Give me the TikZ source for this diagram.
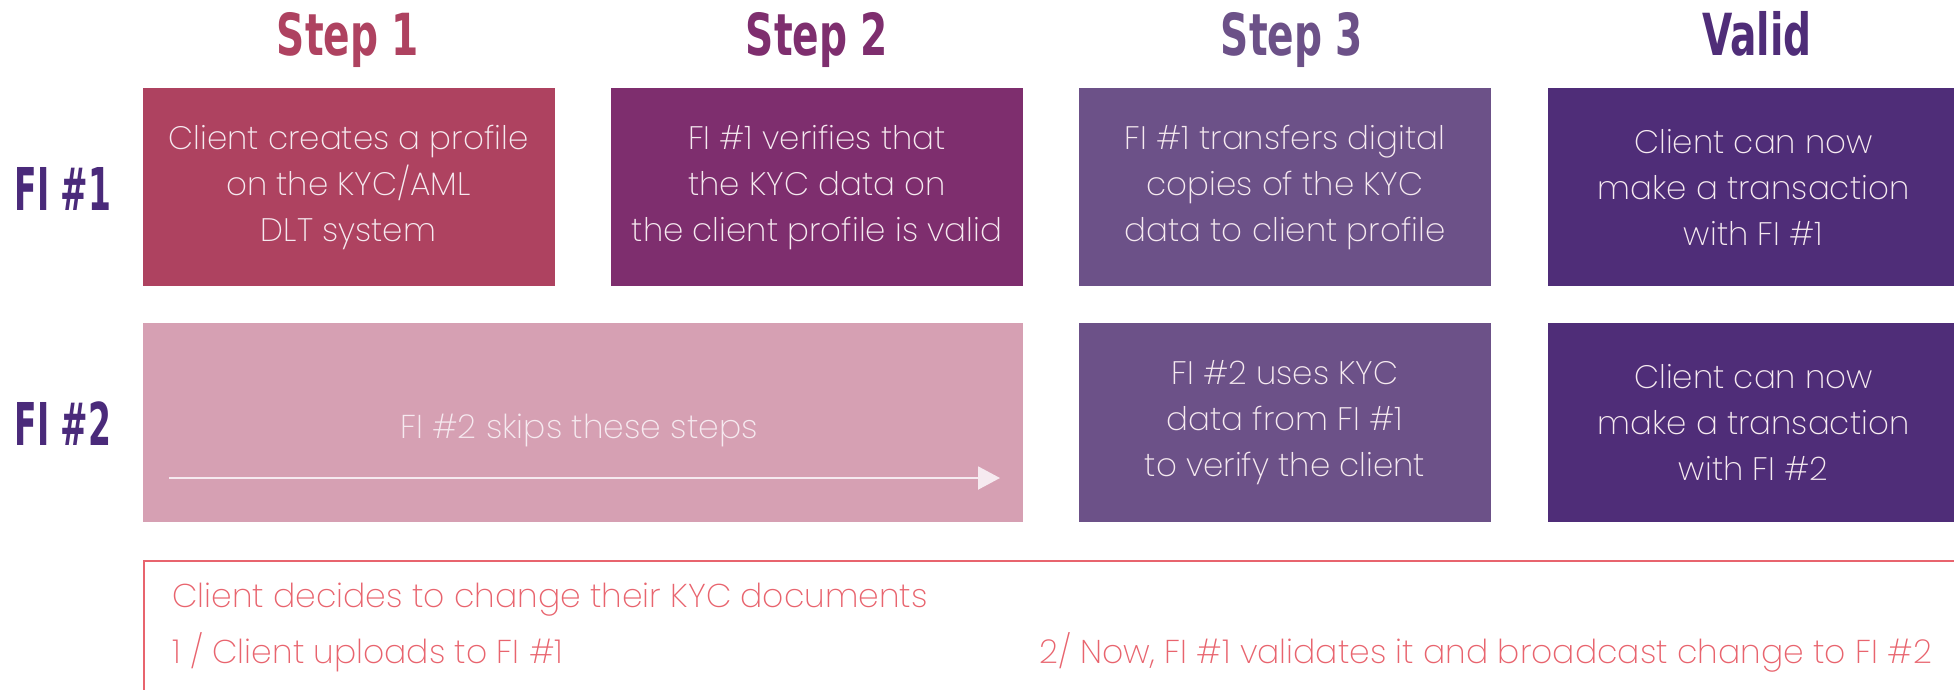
\documentclass[tikz,border=0pt]{standalone}
\usepackage{fontspec}
\setmainfont{Poppins ExtraLight}
\newfontfamily\headfont[FakeStretch=0.75]{DejaVu Sans Condensed}
\newfontfamily\labfont[FakeStretch=0.62]{DejaVu Sans Condensed}
\usetikzlibrary{arrows.meta}
\definecolor{cone}{HTML}{AE4260}
\definecolor{ctwo}{HTML}{7E2E6E}
\definecolor{cthree}{HTML}{6C5188}
\definecolor{cfour}{HTML}{4F2D78}
\definecolor{cpink}{HTML}{D6A0B3}
\definecolor{clab}{HTML}{4A2A7A}
\definecolor{cred}{HTML}{E8646E}
\definecolor{boxtext}{HTML}{F6EAF0}
\begin{document}
\begin{tikzpicture}[x=1pt,y=-1pt,
  box/.style={draw=none, minimum width=412pt, minimum height=198pt, inner sep=0pt,
    text=boxtext, align=center, font=\fontsize{32.5}{46}\selectfont},
  head/.style={anchor=base, inner sep=0pt, font=\headfont\bfseries\fontsize{58}{60}\selectfont},
  lab/.style={anchor=base, inner sep=0pt, text=clab, font=\labfont\bfseries\fontsize{59}{60}\selectfont},
  note/.style={anchor=base west, inner sep=0pt, text=cred, font=\fontsize{33}{36}\selectfont}]
\useasboundingbox (0,0) rectangle (1954,689);
% headings
\node[head, text=cone] (h1) at (348,55) {Step 1};
\node[head, text=ctwo] (h2) at (817,55) {Step 2};
\node[head, text=cthree] (h3) at (1292,55) {Step 3};
\node[head, text=cfour] (h4) at (1757,55) {Valid};
% row labels
\node[lab] (l1) at (63,210) {FI \#1};
\node[lab] (l2) at (63,445) {FI \#2};
% row 1
\node[box, fill=cone] (b11) at (348.5,187) {Client creates a profile\\on the KYC/AML\\DLT system};
\node[box, fill=ctwo] (b12) at (817,187) {FI \#1 verifies that\\the KYC data on\\the client profile is valid};
\node[box, fill=cthree] (b13) at (1285,187) {FI \#1 transfers digital\\copies of the KYC\\data to client profile};
\node[box, fill=cfour] (b14) at (1753.5,187) {Client can now\\make a transaction\\with FI \#1};
% row 2
\node[box, fill=cpink, minimum width=880pt, minimum height=199pt] (b21) at (583,422.5) {};
\node[anchor=base, inner sep=0pt, text=boxtext, font=\fontsize{33}{36}\selectfont] (skip) at (579,438) {FI \#2 skips these steps};
\coordinate (as) at (169,478);
\coordinate (ae) at (1000,478);
\draw[boxtext, line width=2pt, -{Triangle[length=22pt,width=23pt]}] (as) -- (ae);
\node[box, fill=cthree, minimum height=199pt] (b23) at (1285,422.5) {FI \#2 uses KYC\\data from FI \#1\\to verify the client};
\node[box, fill=cfour, minimum height=199pt] (b24) at (1753.5,422.5) {Client can now\\make a transaction\\with FI \#2};
% bottom note box
\node[draw=cred, line width=2pt, minimum width=1840pt, minimum height=170pt, anchor=north west, inner sep=0pt] (nb) at (143,560) {};
\node[note] (n1) at (172,607) {Client decides to change their KYC documents};
\node[note] (n2) at (172,663) {1 / Client uploads to FI \#1};
\node[note, anchor=base east] (n3) at (1932,663) {2/ Now, FI \#1 validates it and broadcast change to FI \#2};
\end{tikzpicture}
\end{document}
